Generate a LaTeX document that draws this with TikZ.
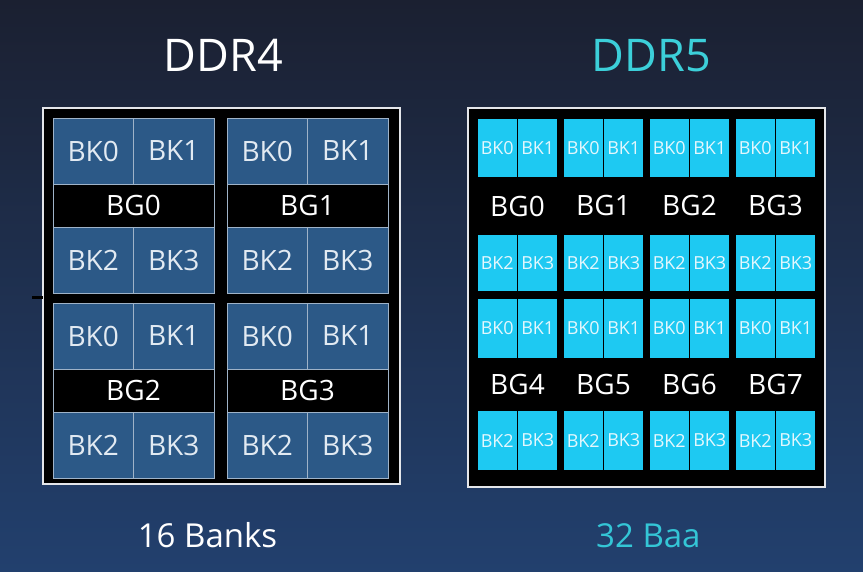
\documentclass[tikz,border=0pt]{standalone}
\usepackage{fontspec}
\setmainfont{Open Sans}
\definecolor{bgtop}{HTML}{1B2031}
\definecolor{bgbot}{HTML}{22406E}
\definecolor{boxline}{HTML}{E4E6EA}
\definecolor{dfourcell}{HTML}{2C5987}
\definecolor{dfourline}{HTML}{9FB3C8}
\definecolor{dfourtext}{HTML}{E2EAF2}
\definecolor{dfivecell}{HTML}{1EC9F2}
\definecolor{dfivetext}{HTML}{E4F7FD}
\definecolor{titlefive}{HTML}{3CCFD9}
\definecolor{banksfive}{HTML}{34C6D6}
\tikzset{
  base/.style={inner sep=0pt, outer sep=0pt, anchor=north west},
  chipbox/.style={base, draw=boxline, line width=2pt, fill=black},
  dfourbk/.style={base, draw=dfourline, line width=0.8pt, fill=dfourcell, text=dfourtext,
     minimum width=80.5pt, minimum height=66pt, font=\fontsize{28}{28}\selectfont},
  dfourbg/.style={base, draw=dfourline, line width=0.8pt, fill=black, text=white,
     minimum width=161pt, minimum height=43pt, font=\fontsize{28}{28}\selectfont},
  dfivebk/.style={base, draw=black, line width=1.4pt, fill=dfivecell, text=dfivetext,
     minimum width=40.5pt, font=\fontsize{18}{18}\selectfont},
  dfivebg/.style={base, fill=black, text=white,
     minimum width=81pt, font=\fontsize{28}{28}\selectfont},
  title/.style={anchor=base, inner sep=0pt, font=\fontsize{45}{45}\selectfont},
  caption/.style={inner sep=0pt, font=\fontsize{33}{33}\selectfont}
}
\begin{document}
\begin{tikzpicture}[x=1pt,y=-1pt]
\shade[top color=bgtop, bottom color=bgbot] (0,0) rectangle (863,572);
\useasboundingbox (0,0) rectangle (863,572);

% titles
\node[title, text=white] (t4) at (223.5,72) {DDR4};
\node[title, text=titlefive] (t5) at (651.5,72) {DDR5};

% DDR4 chip
\node[chipbox, minimum width=357pt, minimum height=376pt] (d4box) at (43,108) {};
\draw[line width=3pt, black] ([xshift=-11pt,yshift=-2pt]d4box.west) -- ([yshift=-2pt]d4box.west);
\foreach \gx/\gy/\g in {53/118/0, 227/118/1, 53/303/2, 227/303/3}{
  \node[dfourbk] (d4g\g k0) at (\gx,\gy) {BK0};
  \node[dfourbk] (d4g\g k1) at (\gx+80.5,\gy) {BK1};
  \node[dfourbg] (d4g\g bar) at (\gx,\gy+66) {BG\g};
  \node[dfourbk] (d4g\g k2) at (\gx,\gy+109) {BK2};
  \node[dfourbk] (d4g\g k3) at (\gx+80.5,\gy+109) {BK3};
}

% DDR5 chip
\node[chipbox, minimum width=357pt, minimum height=379pt] (d5box) at (468,108) {};
\foreach \gy/\ha/\hb/\hc/\r in {118/60/56/58/0, 298/61/51/61/1}{
  \foreach \gx [count=\c from 0] in {477,563,649,735}{
    \pgfmathtruncatemacro\g{\r*4+\c}
    \node[dfivebk, minimum height=\ha pt] (d5g\g k0) at (\gx,\gy) {BK0};
    \node[dfivebk, minimum height=\ha pt] (d5g\g k1) at (\gx+40.5,\gy) {BK1};
    \node[dfivebg, minimum height=\hb pt] (d5g\g bar) at (\gx,\gy+\ha) {BG\g};
    \node[dfivebk, minimum height=\hc pt] (d5g\g k2) at (\gx,\gy+\ha+\hb) {BK2};
    \node[dfivebk, minimum height=\hc pt] (d5g\g k3) at (\gx+40.5,\gy+\ha+\hb) {BK3};
  }
}

% captions
\node[caption, anchor=base, text=white] (c4) at (207.5,547) {16 Banks};
\node[caption, anchor=base west, text=banksfive] (c5) at (596,547) {32 Baa};
\end{tikzpicture}
\end{document}
